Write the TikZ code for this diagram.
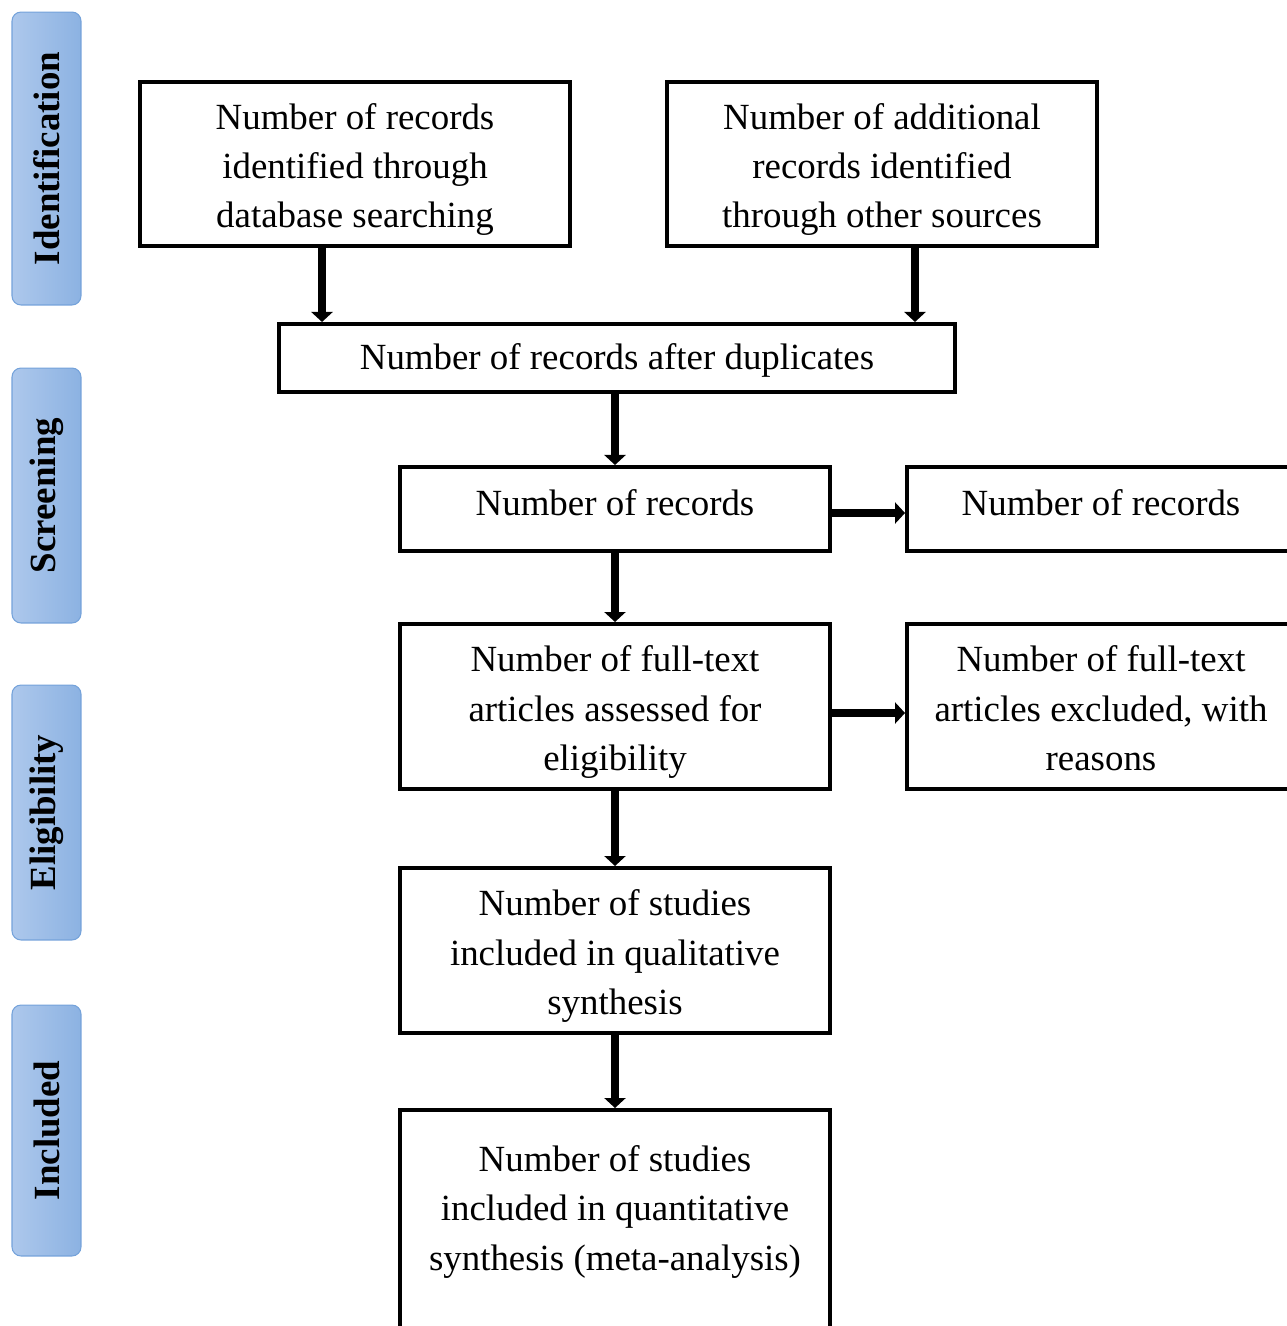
\documentclass[tikz,border=0pt]{standalone}
\usepackage{fontspec}
\setmainfont{Liberation Serif}
\usetikzlibrary{arrows.meta,positioning}

\definecolor{stagelight}{HTML}{ADC8EC}
\definecolor{stagedark}{HTML}{8CB2E2}
\definecolor{stageline}{HTML}{74A2DA}

\begin{document}
\begin{tikzpicture}[->, >={Triangle[length=0.2cm,width=0.42cm]}, x=0.02cm, y=-0.02cm]
    \tikzstyle{box}=[draw=black, line width=2.3pt, fill=white, align=center, inner sep=0pt, minimum width=8.6cm, font=\fontsize{21}{28}\selectfont]
    \tikzstyle{three}=[text height=78.5pt, text depth=6pt]
    \tikzstyle{stage}=[rotate=90, draw=stageline, line width=0.6pt, rounded corners=0.18cm, left color=stagelight, right color=stagedark, minimum height=1.38cm, font=\bfseries\fontsize{21}{28}\selectfont]
    \tikzstyle{flow}=[line width=4.5pt]
    \useasboundingbox (0,0) rectangle (1287,1326);
    \clip (0,0) rectangle (1287,1326);

    % phases on the left
    \node[stage, minimum width=5.86cm]  (S1) at (46.5,158.5)  {Identification};
    \node[stage, minimum width=5.1cm]   (S2) at (46.5,495.5)  {Screening};
    \node[stage, minimum width=5.1cm]   (S3) at (46.5,812.5)  {Eligibility};
    \node[stage, minimum width=5.02cm]  (S4) at (46.5,1130.5) {Included};

    \node[box, three, minimum height=3.28cm]                  (A) at (355,164)    {Number of records\\identified through\\database searching};
    \node[box, three, minimum height=3.28cm]                  (B) at (882,164)    {Number of additional\\records identified\\through other sources};
    \node[box, minimum width=13.52cm, minimum height=1.36cm, text height=14pt, text depth=1pt] (C) at (617,358) {Number of records after duplicates};
    \node[box, minimum height=1.68cm, text height=14pt, text depth=6.5pt]                      (D) at (615,509) {Number of records};
    \node[box, minimum width=7.76cm, minimum height=1.68cm, text height=14pt, text depth=6.5pt] (E) at (1101,509) {Number of records};
    \node[box, three, minimum height=3.3cm]                   (F) at (615,706.5)  {Number of full-text\\articles assessed for\\eligibility};
    \node[box, three, minimum width=7.76cm, minimum height=3.3cm] (G) at (1101,706.5) {Number of full-text\\articles excluded, with\\reasons};
    \node[box, three, minimum height=3.3cm]                   (H) at (615,950.5)  {Number of studies\\included in qualitative\\synthesis};
    \node[box, minimum height=4.9cm]                          (I) at (615,1232.5) {Number of studies\\included in quantitative\\synthesis (meta-analysis)\\\mbox{}};

    \path
([xshift=-0.66cm]A.south) edge[flow] ([xshift=-0.66cm]A.south |- C.north)
([xshift=0.66cm]B.south)  edge[flow] ([xshift=0.66cm]B.south |- C.north)
(C.south -| D.north)      edge[flow] (D.north)
([yshift=-0.08cm]D.east)  edge[flow] ([yshift=-0.08cm]D.east -| E.west)
(D) edge[flow] (F)
([yshift=-0.13cm]F.east)  edge[flow] ([yshift=-0.13cm]F.east -| G.west)
(F) edge[flow] (H)
(H) edge[flow] (I);
\end{tikzpicture}
\end{document}
